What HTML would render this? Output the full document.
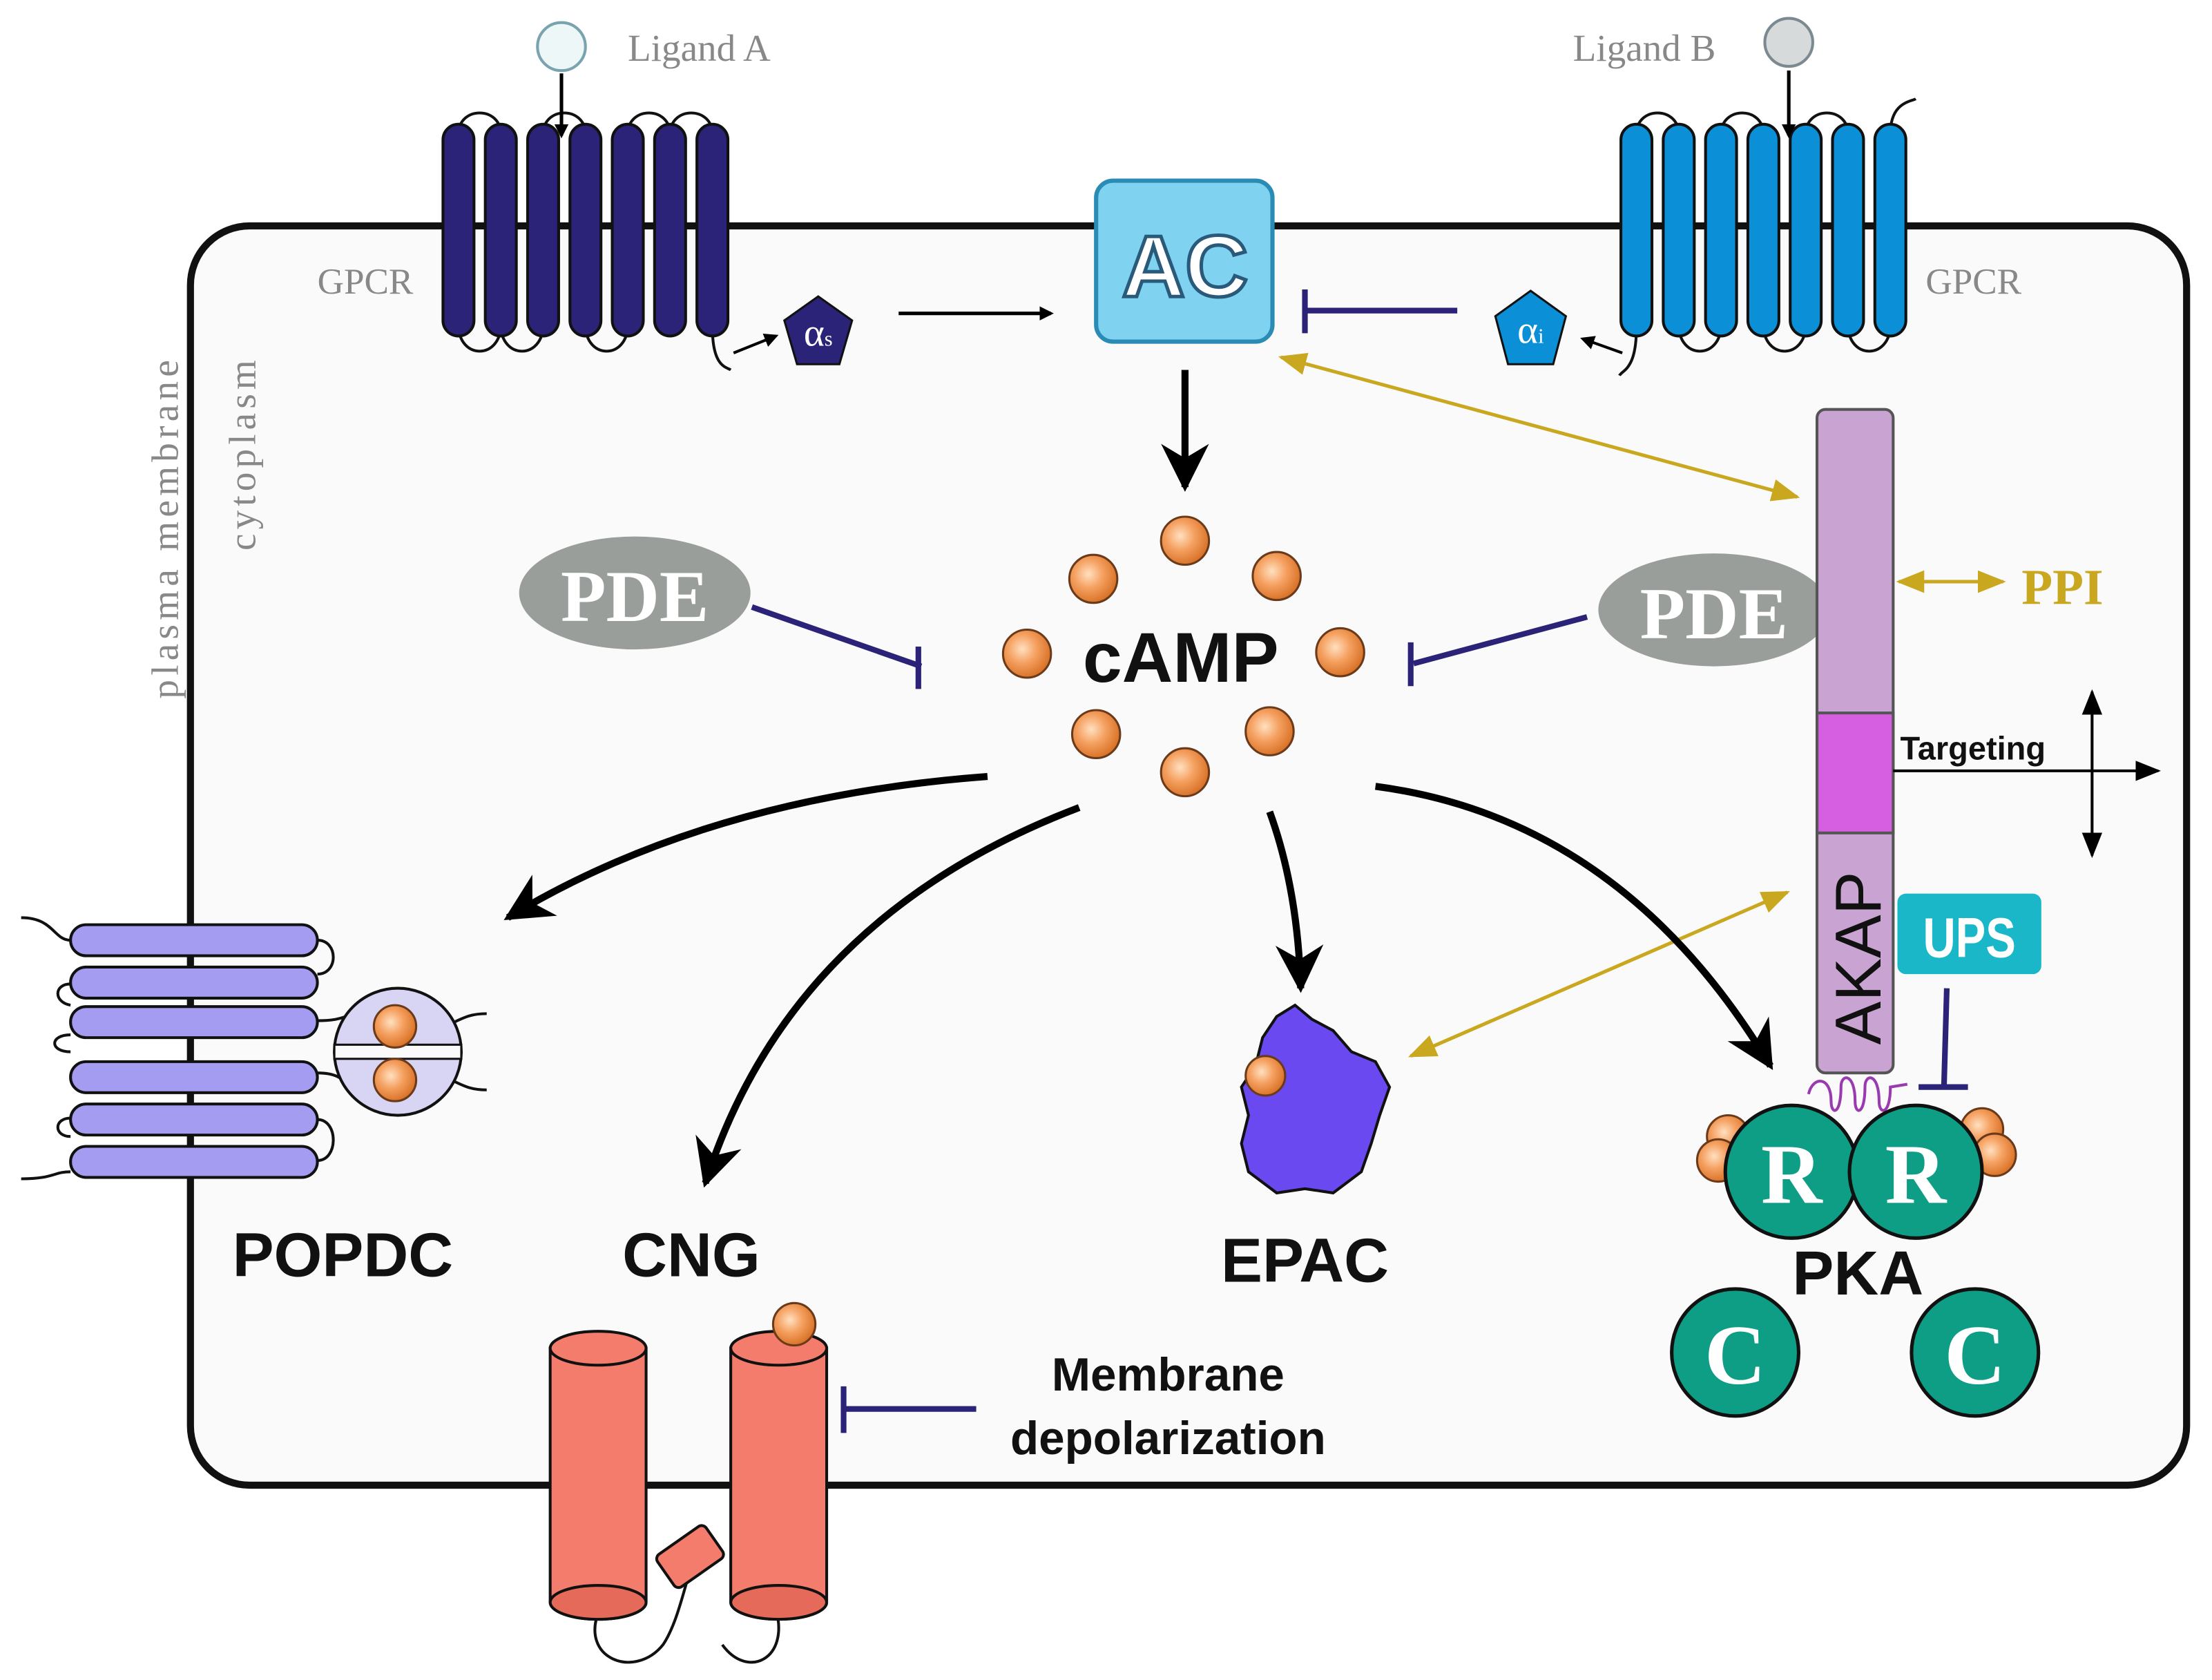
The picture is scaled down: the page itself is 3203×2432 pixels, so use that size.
<!DOCTYPE html>
<html><head><meta charset="utf-8"><style>
html,body{margin:0;padding:0;background:#fff;}
svg{display:block;}
</style></head><body>
<svg width="3203" height="2432" viewBox="0 0 1568 1190" preserveAspectRatio="none" xmlns="http://www.w3.org/2000/svg">
<defs>
<marker id="ab" markerWidth="10" markerHeight="10" refX="8" refY="5" orient="auto" markerUnits="userSpaceOnUse" viewBox="0 0 10 10"><path d="M0,0 L10,5 L0,10 z" fill="#000"/></marker>
<marker id="abig" viewBox="0 0 10 10" refX="9" refY="5" markerWidth="34" markerHeight="34" orient="auto" markerUnits="userSpaceOnUse"><path d="M0,0 L10,5 L0,10 L3,5 z" fill="#000"/></marker>
<marker id="ag" viewBox="0 0 10 10" refX="9" refY="5" markerWidth="20" markerHeight="20" orient="auto-start-reverse" markerUnits="userSpaceOnUse"><path d="M0,1 L10,5 L0,9 z" fill="#c9a820"/></marker>
<marker id="ak" viewBox="0 0 10 10" refX="9" refY="5" markerWidth="18" markerHeight="18" orient="auto-start-reverse" markerUnits="userSpaceOnUse"><path d="M0,1 L10,5 L0,9 z" fill="#000"/></marker>
<radialGradient id="og" cx="0.4" cy="0.4" r="0.6"><stop offset="0" stop-color="#ffe0c0"/><stop offset="0.5" stop-color="#f5a060"/><stop offset="1" stop-color="#d9742a"/></radialGradient>
</defs>

<rect x="135" y="160" width="1415" height="892" rx="42" fill="#fafafa" stroke="#111" stroke-width="5"/>

<text transform="translate(126,495) rotate(-90)" font-family="Liberation Serif,serif" font-size="27" fill="#888" textLength="240">plasma membrane</text>
<text transform="translate(181,390) rotate(-90)" font-family="Liberation Serif,serif" font-size="27" fill="#888" textLength="135">cytoplasm</text>

<g fill="none" stroke="#111" stroke-width="2">
<path d="M325,95 C325,75 355,75 355,95 M385,95 C385,75 415,75 415,95 M445,95 C445,75 475,75 475,95 M475,95 C475,75 505,75 505,95"/>
<path d="M355,230 C355,255 385,255 385,230 M415,230 C415,255 445,255 445,230 M325,230 C325,255 355,255 355,230"/>
<path d="M505,232 C505,260 515,260 518,262"/>
<path d="M1160,95 C1160,75 1190,75 1190,95 M1220,95 C1220,75 1250,75 1250,95 M1280,95 C1280,75 1310,75 1310,95 M1340,95 C1340,72 1355,72 1358,70"/>
<path d="M1190,230 C1190,255 1220,255 1220,230 M1250,230 C1250,255 1280,255 1280,230 M1310,230 C1310,255 1340,255 1340,230 M1160,232 C1160,262 1150,262 1148,266"/>
</g>
<g fill="#2a2377" stroke="#111" stroke-width="2">
<rect x="314" y="88" width="22" height="150" rx="11"/><rect x="344" y="88" width="22" height="150" rx="11"/><rect x="374" y="88" width="22" height="150" rx="11"/><rect x="404" y="88" width="22" height="150" rx="11"/><rect x="434" y="88" width="22" height="150" rx="11"/><rect x="464" y="88" width="22" height="150" rx="11"/><rect x="494" y="88" width="22" height="150" rx="11"/>
</g>
<g fill="#0b8fd6" stroke="#111" stroke-width="2">
<rect x="1149" y="88" width="22" height="150" rx="11"/><rect x="1179" y="88" width="22" height="150" rx="11"/><rect x="1209" y="88" width="22" height="150" rx="11"/><rect x="1239" y="88" width="22" height="150" rx="11"/><rect x="1269" y="88" width="22" height="150" rx="11"/><rect x="1299" y="88" width="22" height="150" rx="11"/><rect x="1329" y="88" width="22" height="150" rx="11"/>
</g>

<circle cx="398" cy="33" r="17" fill="#eef7f7" stroke="#7aa3b0" stroke-width="2"/>
<text x="445" y="43" font-family="Liberation Serif,serif" font-size="27" fill="#888">Ligand A</text>
<line x1="398" y1="52" x2="398" y2="96" stroke="#000" stroke-width="2.5" marker-end="url(#ab)"/>
<circle cx="1268" cy="30" r="17" fill="#d6dada" stroke="#7a8a90" stroke-width="2"/>
<text x="1115" y="43" font-family="Liberation Serif,serif" font-size="27" fill="#888">Ligand B</text>
<line x1="1268" y1="50" x2="1268" y2="96" stroke="#000" stroke-width="2.5" marker-end="url(#ab)"/>

<text x="225" y="208" font-family="Liberation Serif,serif" font-size="26" fill="#888">GPCR</text>
<text x="1365" y="208" font-family="Liberation Serif,serif" font-size="26" fill="#888">GPCR</text>

<line x1="520" y1="250" x2="550" y2="238" stroke="#000" stroke-width="2" marker-end="url(#ab)"/>
<polygon points="580,210 604,227 595,258 565,258 556,227" fill="#2a2377" stroke="#111" stroke-width="1.5"/>
<text x="580" y="245" text-anchor="middle" font-family="Liberation Serif,serif" font-size="28" fill="#fff">α<tspan font-size="15">s</tspan></text>
<line x1="637" y1="222" x2="745" y2="222" stroke="#000" stroke-width="2.5" marker-end="url(#ab)"/>

<rect x="777" y="128" width="125" height="114" rx="12" fill="#7fd3f0" stroke="#2a8bb5" stroke-width="3"/>
<text x="840" y="210" text-anchor="middle" font-family="Liberation Sans,sans-serif" font-weight="bold" font-size="62" fill="#fff" stroke="#2a5a7a" stroke-width="2.5">AC</text>

<line x1="1033" y1="220" x2="925" y2="220" stroke="#2a2377" stroke-width="4"/>
<line x1="925" y1="205" x2="925" y2="236" stroke="#2a2377" stroke-width="4"/>
<line x1="1150" y1="250" x2="1122" y2="240" stroke="#000" stroke-width="2" marker-end="url(#ab)"/>
<polygon points="1085,206 1110,224 1101,258 1069,258 1060,224" fill="#0b8fd6" stroke="#111" stroke-width="1.5"/>
<text x="1085" y="243" text-anchor="middle" font-family="Liberation Serif,serif" font-size="28" fill="#fff">α<tspan font-size="15">i</tspan></text>

<line x1="840" y1="262" x2="840" y2="345" stroke="#000" stroke-width="5" marker-end="url(#abig)"/>

<g fill="url(#og)" stroke="#6a3a1a" stroke-width="1.5">
<circle cx="840" cy="383" r="17"/><circle cx="775" cy="410" r="17"/><circle cx="905" cy="408" r="17"/><circle cx="728" cy="463" r="17"/><circle cx="950" cy="462" r="17"/><circle cx="777" cy="520" r="17"/><circle cx="900" cy="518" r="17"/><circle cx="840" cy="547" r="17"/>
</g>
<text x="837" y="483" text-anchor="middle" font-family="Liberation Sans,sans-serif" font-weight="bold" font-size="50" fill="#111">cAMP</text>

<ellipse cx="450" cy="420" rx="82" ry="40" fill="#9a9e9a"/>
<text x="450" y="440" text-anchor="middle" font-family="Liberation Serif,serif" font-weight="bold" font-size="52" fill="#fff" textLength="105" lengthAdjust="spacingAndGlyphs">PDE</text>
<ellipse cx="1215" cy="432" rx="82" ry="40" fill="#9a9e9a"/>
<text x="1215" y="452" text-anchor="middle" font-family="Liberation Serif,serif" font-weight="bold" font-size="52" fill="#fff" textLength="105" lengthAdjust="spacingAndGlyphs">PDE</text>
<line x1="533" y1="430" x2="653" y2="472" stroke="#2a2377" stroke-width="4"/>
<line x1="651" y1="458" x2="651" y2="488" stroke="#2a2377" stroke-width="4"/>
<line x1="1125" y1="437" x2="1002" y2="470" stroke="#2a2377" stroke-width="4"/>
<line x1="1000" y1="455" x2="1000" y2="486" stroke="#2a2377" stroke-width="4"/>

<rect x="1288" y="290" width="54" height="470" rx="6" fill="#c9a3d1" stroke="#555" stroke-width="2"/>
<rect x="1288" y="505" width="54" height="85" fill="#d55fe0" stroke="#555" stroke-width="2"/>
<text transform="translate(1333,740) rotate(-90)" font-family="Liberation Sans,sans-serif" font-size="46" fill="#111">AKAP</text>

<line x1="908" y1="253" x2="1274" y2="352" stroke="#c9a820" stroke-width="2.5" marker-start="url(#ag)" marker-end="url(#ag)"/>
<line x1="1000" y1="748" x2="1267" y2="632" stroke="#c9a820" stroke-width="2.5" marker-start="url(#ag)" marker-end="url(#ag)"/>
<line x1="1346" y1="412" x2="1420" y2="412" stroke="#c9a820" stroke-width="2.5" marker-start="url(#ag)" marker-end="url(#ag)"/>
<text x="1433" y="428" font-family="Liberation Serif,serif" font-weight="bold" font-size="36" fill="#c9a820">PPI</text>

<text x="1347" y="538" font-family="Liberation Sans,sans-serif" font-weight="bold" font-size="23" fill="#111">Targeting</text>
<line x1="1342" y1="546" x2="1530" y2="546" stroke="#000" stroke-width="2" marker-end="url(#ak)"/>
<line x1="1483" y1="490" x2="1483" y2="606" stroke="#000" stroke-width="2" marker-start="url(#ak)" marker-end="url(#ak)"/>

<rect x="1345" y="633" width="102" height="57" rx="6" fill="#1ab7c8"/>
<text x="1396" y="678" text-anchor="middle" font-family="Liberation Sans,sans-serif" font-weight="bold" font-size="40" fill="#fff" transform="translate(1396,0) scale(0.8,1) translate(-1396,0)">UPS</text>
<line x1="1380" y1="700" x2="1378" y2="770" stroke="#2a2377" stroke-width="4"/>
<line x1="1360" y1="770" x2="1395" y2="770" stroke="#2a2377" stroke-width="4"/>

<path d="M1282,775 C1285,762 1298,762 1298,780 C1298,790 1305,790 1305,770 C1305,760 1315,760 1315,780 C1315,790 1322,790 1322,770 C1322,760 1332,760 1332,780 C1332,790 1340,790 1340,770 L1352,768" fill="none" stroke="#9a3ab0" stroke-width="2"/>

<g fill="url(#og)" stroke="#6a3a1a" stroke-width="1.5">
<circle cx="1225" cy="805" r="15"/><circle cx="1218" cy="822" r="15"/><circle cx="1405" cy="800" r="15"/><circle cx="1414" cy="818" r="15"/>
</g>
<g fill="#0e9e86" stroke="#111" stroke-width="2.5">
<circle cx="1270" cy="830" r="47"/><circle cx="1358" cy="830" r="47"/>
<circle cx="1230" cy="958" r="45"/><circle cx="1400" cy="958" r="45"/>
</g>
<g font-family="Liberation Serif,serif" font-weight="bold" font-size="60" fill="#fff" text-anchor="middle">
<text x="1270" y="852">R</text><text x="1358" y="852">R</text><text x="1230" y="980">C</text><text x="1400" y="980">C</text>
</g>
<text x="1317" y="917" text-anchor="middle" font-family="Liberation Sans,sans-serif" font-weight="bold" font-size="44" fill="#111">PKA</text>

<path d="M905,720 L918,712 L930,722 L945,730 L958,745 L975,752 L985,770 L978,790 L972,810 L965,830 L945,845 L925,842 L905,845 L885,830 L880,810 L885,790 L880,770 L890,755 L895,735 Z" fill="#6a4af0" stroke="#111" stroke-width="2"/>
<circle cx="897" cy="762" r="14" fill="url(#og)" stroke="#6a3a1a" stroke-width="1.5"/>
<text x="925" y="908" text-anchor="middle" font-family="Liberation Sans,sans-serif" font-weight="bold" font-size="44" fill="#111">EPAC</text>

<g fill="none" stroke="#000" stroke-width="5">
<path d="M700,550 Q500,565 360,650" marker-end="url(#abig)"/>
<path d="M765,572 Q560,650 500,838" marker-end="url(#abig)"/>
<path d="M900,575 Q920,630 922,700" marker-end="url(#abig)"/>
<path d="M975,557 Q1150,580 1255,755" marker-end="url(#abig)"/>
</g>

<g fill="none" stroke="#111" stroke-width="2">
<path d="M50,666 C38,666 38,650 15,650 M50,733 C35,733 35,745 50,745 M50,830 C38,830 38,835 15,835 M50,697 C38,697 38,710 50,712 M50,792 C38,792 38,805 50,805"/>
<path d="M225,666 C240,666 240,690 225,690 M225,723 C245,723 245,718 250,720 M225,760 C245,760 245,770 250,770 M225,793 C240,793 240,822 225,822"/>
<path d="M320,725 C330,720 335,718 345,718 M320,765 C330,770 335,772 345,772"/>
</g>
<g fill="#a39cf0" stroke="#111" stroke-width="2">
<rect x="50" y="655" width="175" height="22" rx="11"/><rect x="50" y="685" width="175" height="22" rx="11"/><rect x="50" y="713" width="175" height="22" rx="11"/>
<rect x="50" y="752" width="175" height="22" rx="11"/><rect x="50" y="782" width="175" height="22" rx="11"/><rect x="50" y="812" width="175" height="22" rx="11"/>
</g>
<circle cx="282" cy="745" r="45" fill="#d8d4f4" stroke="#111" stroke-width="2"/>
<rect x="237" y="740" width="90" height="10" fill="#fafafa" stroke="#111" stroke-width="1.5"/>
<circle cx="280" cy="727" r="15" fill="url(#og)" stroke="#6a3a1a" stroke-width="1.5"/>
<circle cx="280" cy="765" r="15" fill="url(#og)" stroke="#6a3a1a" stroke-width="1.5"/>
<text x="243" y="904" text-anchor="middle" font-family="Liberation Sans,sans-serif" font-weight="bold" font-size="44" fill="#111">POPDC</text>

<text x="490" y="904" text-anchor="middle" font-family="Liberation Sans,sans-serif" font-weight="bold" font-size="44" fill="#111">CNG</text>
<path d="M425,1140 C410,1175 450,1190 470,1165 C480,1150 485,1125 490,1110 M550,1140 C560,1175 530,1190 512,1165" fill="none" stroke="#111" stroke-width="2"/>
<g fill="#f47c6c" stroke="#111" stroke-width="2">
<path d="M390,955 L390,1135 A34,12 0 0 0 458,1135 L458,955 Z"/>
<ellipse cx="424" cy="955" rx="34" ry="12"/>
<ellipse cx="424" cy="1135" rx="34" ry="12" fill="#e56a5a"/>
<path d="M518,955 L518,1135 A34,12 0 0 0 586,1135 L586,955 Z"/>
<ellipse cx="552" cy="955" rx="34" ry="12"/>
<ellipse cx="552" cy="1135" rx="34" ry="12" fill="#e56a5a"/>
<g transform="rotate(-35,490,1102)"><rect x="468" y="1088" width="42" height="28" rx="4"/></g>
</g>
<circle cx="563" cy="938" r="15" fill="url(#og)" stroke="#6a3a1a" stroke-width="1.5"/>
<line x1="692" y1="998" x2="598" y2="998" stroke="#2a2377" stroke-width="4"/>
<line x1="598" y1="982" x2="598" y2="1015" stroke="#2a2377" stroke-width="4"/>
<text x="828" y="985" text-anchor="middle" font-family="Liberation Sans,sans-serif" font-weight="bold" font-size="33" fill="#111">Membrane</text>
<text x="828" y="1030" text-anchor="middle" font-family="Liberation Sans,sans-serif" font-weight="bold" font-size="33" fill="#111">depolarization</text>
</svg>
</body></html>
